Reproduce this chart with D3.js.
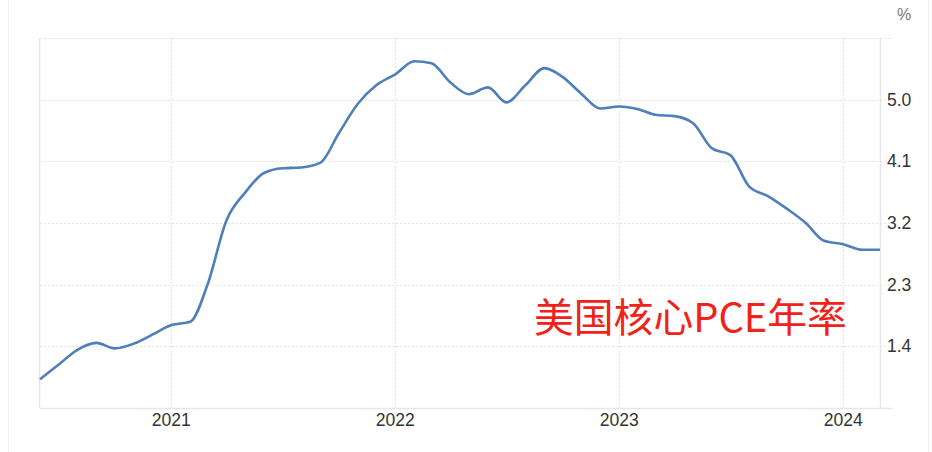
<!DOCTYPE html>
<html>
<head>
<meta charset="utf-8">
<script src="https://cdn.jsdelivr.net/npm/d3@7"></script>
<style>
  html, body { margin: 0; padding: 0; background: #ffffff; }
  svg { display: block; }
</style>
</head>
<body>
<svg id="chart" width="932" height="452"></svg>
<script>
// ---- data ----
const months = [
  "2020-06","2020-07","2020-08","2020-09","2020-10","2020-11","2020-12",
  "2021-01","2021-02","2021-03","2021-04","2021-05","2021-06","2021-07","2021-08","2021-09","2021-10","2021-11","2021-12",
  "2022-01","2022-02","2022-03","2022-04","2022-05","2022-06","2022-07","2022-08","2022-09","2022-10","2022-11","2022-12",
  "2023-01","2023-02","2023-03","2023-04","2023-05","2023-06","2023-07","2023-08","2023-09","2023-10","2023-11","2023-12",
  "2024-01","2024-02","2024-03"
];
const values = [
  0.92, 1.13, 1.35, 1.45, 1.37, 1.44, 1.57,
  1.71, 1.76, 2.30, 3.24, 3.64, 3.93, 4.00, 4.01, 4.08, 4.51, 4.94, 5.21,
  5.37, 5.56, 5.53, 5.25, 5.08, 5.18, 4.96, 5.21, 5.46, 5.33, 5.08, 4.87,
  4.90, 4.86, 4.78, 4.76, 4.66, 4.29, 4.19, 3.73, 3.59, 3.41, 3.20, 2.94,
  2.89, 2.81, 2.81
];
const yTicks = [1.4, 2.3, 3.2, 4.1, 5.0];
const xTickLabels = ["2021", "2022", "2023", "2024"];
const unitLabel = "%";
const annotation = "美国核心PCE年率";

// ---- layout ----
const svg = d3.select("#chart");
const pLeft = 40, pRight = 880, pTop = 38, pBottom = 408;
const parse = d3.timeParse("%Y-%m");
const data = months.map((m, i) => ({ date: parse(m), value: values[i] }));

const x = d3.scaleTime()
  .domain([parse(months[0]), parse(months[months.length - 1])])
  .range([pLeft, pRight]);
const y = d3.scaleLinear().domain([0.5, 5.9]).range([pBottom, pTop]);

// page border lines
svg.append("line").attr("x1", 8.5).attr("x2", 8.5).attr("y1", 0).attr("y2", 452)
  .attr("stroke", "#f0f0f0").attr("stroke-width", 1);
svg.append("line").attr("x1", 928.5).attr("x2", 928.5).attr("y1", 0).attr("y2", 452)
  .attr("stroke", "#f0f0f0").attr("stroke-width", 1);

// horizontal grid (dotted)
const gridYs = yTicks.concat([5.9]);
svg.append("g").selectAll("line").data(gridYs).join("line")
  .attr("x1", pLeft).attr("x2", 893)
  .attr("y1", d => Math.round(y(d)) + 0.5).attr("y2", d => Math.round(y(d)) + 0.5)
  .attr("stroke", "#e3e3e3").attr("stroke-width", 1)
  .attr("stroke-dasharray", "2,2");

// vertical grid (dotted) at years
const yearDates = xTickLabels.map(t => d3.timeParse("%Y")(t));
svg.append("g").selectAll("line").data(yearDates).join("line")
  .attr("x1", d => Math.round(x(d)) + 0.5).attr("x2", d => Math.round(x(d)) + 0.5)
  .attr("y1", pTop).attr("y2", pBottom)
  .attr("stroke", "#e3e3e3").attr("stroke-width", 1)
  .attr("stroke-dasharray", "2,2");

// axis frame lines
svg.append("line").attr("x1", pLeft - 0.5).attr("x2", pLeft - 0.5).attr("y1", pTop).attr("y2", pBottom)
  .attr("stroke", "#e6e6e6").attr("stroke-width", 1.5);
svg.append("line").attr("x1", pRight + 0.5).attr("x2", pRight + 0.5).attr("y1", pTop).attr("y2", pBottom)
  .attr("stroke", "#e6e6e6").attr("stroke-width", 1.5);
svg.append("line").attr("x1", pLeft).attr("x2", 893).attr("y1", pBottom + 0.5).attr("y2", pBottom + 0.5)
  .attr("stroke", "#e6e6e6").attr("stroke-width", 1.5);

// y labels
svg.append("g").selectAll("text").data(yTicks).join("text")
  .attr("x", 887).attr("y", d => y(d))
  .attr("dy", "0.35em")
  .attr("font-family", "Liberation Sans, Arial, sans-serif")
  .attr("font-size", 17.5).attr("fill", "#333")
  .text(d => d3.format(".1f")(d));

svg.append("text").attr("x", 897).attr("y", 20)
  .attr("font-family", "Liberation Sans, Arial, sans-serif")
  .attr("font-size", 16).attr("fill", "#777")
  .text(unitLabel);

// x labels
svg.append("g").selectAll("text").data(yearDates).join("text")
  .attr("x", d => x(d)).attr("y", 426)
  .attr("text-anchor", "middle")
  .attr("font-family", "Liberation Sans, Arial, sans-serif")
  .attr("font-size", 17.5).attr("fill", "#333")
  .text((d, i) => xTickLabels[i]);

// line
const line = d3.line()
  .x(d => x(d.date)).y(d => y(d.value))
  .curve(d3.curveMonotoneX);
svg.append("path").datum(data)
  .attr("d", line)
  .attr("fill", "none")
  .attr("stroke", "#4f7fb8")
  .attr("stroke-width", 2.6)
  .attr("stroke-linejoin", "round");

// annotation
svg.append("text").attr("x", 534).attr("y", 332)
  .attr("font-family", "Noto Sans CJK SC, sans-serif")
  .attr("font-size", 39.8).attr("fill", "#f0221a")
  .text(annotation);
</script>
</body>
</html>
